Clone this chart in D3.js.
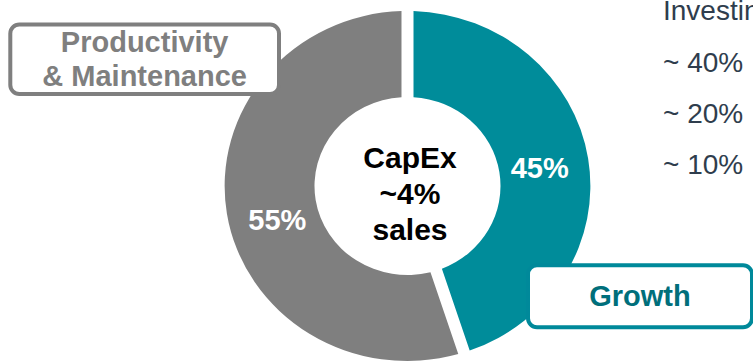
<!DOCTYPE html>
<html>
<head>
<meta charset="utf-8">
<script src="https://cdn.jsdelivr.net/npm/d3@7"></script>
<style>
  body { margin: 0; background: #fff; overflow: hidden; }
  text { font-family: "Liberation Sans", Arial, sans-serif; }
</style>
</head>
<body>
<div id="chart-container"></div>
<script>
// data
const categories = ["Growth", "Productivity & Maintenance"];
const shares = [45, 55];
const shareLabels = ["45%", "55%"];
const centerLines = ["CapEx", "~4%", "sales"];
const sideTitle = "Investing";
const sideItems = ["~ 40%", "~ 20%", "~ 10%"];

const W = 753, H = 363;
const colors = d3.scaleOrdinal().domain(categories).range(["#008c9a", "#7f7f7f"]);

//donut dimensions
const cx = 407.5, cy = 186;
const outerR = 175, innerR = 89;
const stretchX = 1.045;

const svg = d3.select("#chart-container")
  .append("svg")
  .attr("width", W)
  .attr("height", H);

const pie = d3.pie().sort(null).value((d) => d.value);
const arcs = pie(categories.map((c, i) => ({ name: c, value: shares[i], label: shareLabels[i] })));

const arc = d3.arc()
  .innerRadius(innerR)
  .outerRadius(outerR)
  .padRadius(outerR)
  .padAngle(11.5 / outerR);

const labelArc = d3.arc().innerRadius(132).outerRadius(132);

//draw slices
svg.append("g")
  .attr("transform", `translate(${cx},${cy}) scale(${stretchX},1)`)
  .selectAll("path")
  .data(arcs)
  .join("path")
  .attr("d", arc)
  .style("fill", (d) => colors(d.data.name));

//percent labels
const labelOffsets = [[-4, 2], [6, 13]];
svg.append("g")
  .attr("transform", `translate(${cx},${cy})`)
  .selectAll("text")
  .data(arcs)
  .join("text")
  .attr("x", (d, i) => labelArc.centroid(d)[0] * stretchX + labelOffsets[i][0])
  .attr("y", (d, i) => labelArc.centroid(d)[1] + labelOffsets[i][1])
  .attr("text-anchor", "middle")
  .attr("dy", "0.35em")
  .style("fill", "#fff")
  .style("font-weight", "bold")
  .style("font-size", "29px")
  .text((d) => d.data.label);

//center text
svg.append("g")
  .selectAll("text")
  .data(centerLines)
  .join("text")
  .attr("x", 410)
  .attr("y", (d, i) => 168 + i * 36)
  .attr("text-anchor", "middle")
  .style("font-weight", "bold")
  .style("font-size", "30px")
  .style("fill", "#000")
  .text((d) => d);

//category boxes
const boxes = [
  { name: categories[1], x: 10.3, y: 24.5, w: 268.7, h: 69.5, lines: ["Productivity", "& Maintenance"], text: "#7f7f7f", stroke: "#7f7f7f" },
  { name: categories[0], x: 528, y: 265.3, w: 224, h: 62, lines: ["Growth"], text: "#006f7b", stroke: "#00899a" }
];

const box = svg.append("g")
  .selectAll("g")
  .data(boxes)
  .join("g");

box.append("rect")
  .attr("x", (d) => d.x)
  .attr("y", (d) => d.y)
  .attr("width", (d) => d.w)
  .attr("height", (d) => d.h)
  .attr("rx", 9)
  .style("fill", "#fff")
  .style("stroke", (d) => d.stroke)
  .style("stroke-width", 4);

box.each(function (d) {
  const lh = 34;
  const y0 = d.y + d.h / 2 - ((d.lines.length - 1) * lh) / 2 + 10;
  d3.select(this)
    .selectAll("text")
    .data(d.lines)
    .join("text")
    .attr("x", d.x + d.w / 2)
    .attr("y", (t, i) => y0 + i * lh)
    .attr("text-anchor", "middle")
    .style("font-weight", "bold")
    .style("font-size", "29px")
    .style("fill", d.text)
    .text((t) => t);
});

//side text (cut off at the right edge, as in the source slide)
svg.append("text")
  .attr("x", 663)
  .attr("y", 20)
  .style("font-size", "28px")
  .style("fill", "#2f3d4d")
  .text(sideTitle);

svg.append("g")
  .selectAll("text")
  .data(sideItems)
  .join("text")
  .attr("x", 663)
  .attr("y", (d, i) => 72 + i * 51)
  .style("font-size", "28px")
  .style("fill", "#2f3d4d")
  .text((d) => d);
</script>
</body>
</html>
